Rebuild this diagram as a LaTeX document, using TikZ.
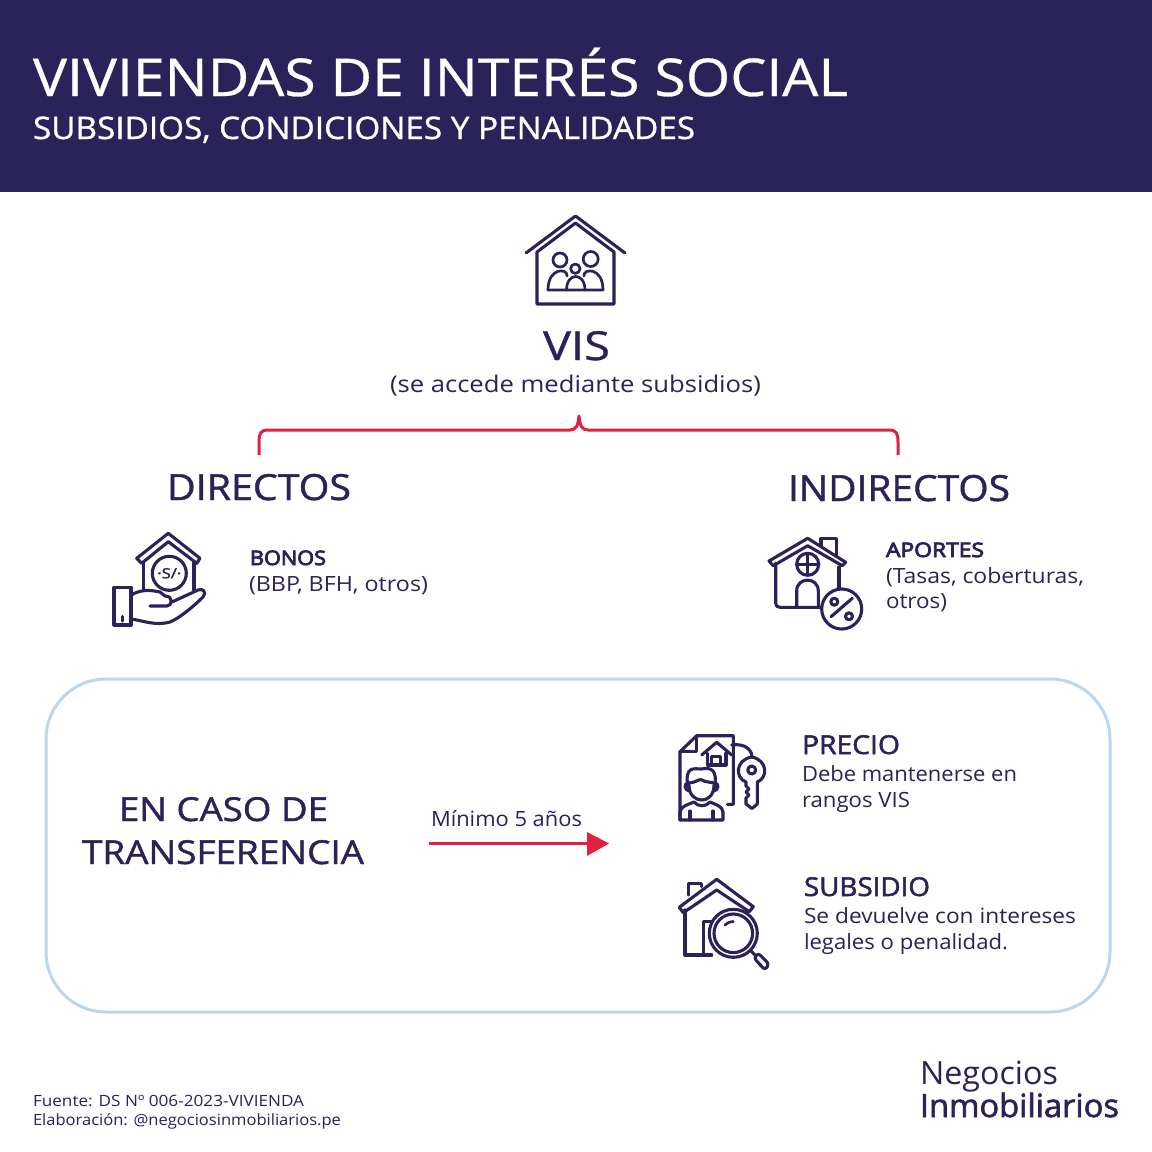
\documentclass[tikz,border=0pt]{standalone}
\usepackage{fontspec}
\usepackage{graphicx}
\setmainfont{Open Sans}
\definecolor{navy}{HTML}{2A2359}
\definecolor{redline}{HTML}{E51F42}
\definecolor{paleblue}{HTML}{BDD7EA}
% #1 target width in px, #2 font size, #3 text
\newcommand{\fitw}[3]{\resizebox{#1pt}{\height}{\fontsize{#2pt}{#2pt}\selectfont #3}}
% same, with a thin outline of width #4 that thickens the letters
\newcommand{\fitm}[4]{\resizebox{#1pt}{\height}{\fontsize{#2pt}{#2pt}\selectfont\special{pdf:code 2 Tr #4 w}#3\special{pdf:code 0 Tr 1 w}}}
\tikzset{
  lab/.style={inner sep=0pt,outer sep=0pt,anchor=base west,text=navy},
  icon/.style={draw=navy,line width=3.1pt,line join=round,line cap=round,fill=none},
  iconthin/.style={draw=navy,line width=2.7pt,line join=round,line cap=round,fill=none},
  redstroke/.style={draw=redline,line width=3pt,line join=round}
}
\begin{document}
\begin{tikzpicture}[x=1pt,y=-1pt]
\useasboundingbox (0,0) rectangle (1152,1152);
\fill[white] (0,0) rectangle (1152,1152);
\fill[navy] (0,0) rectangle (1152,192);
% header
\node[lab,text=white] (title) at (33,96) {\fitm{815}{52}{VIVIENDAS DE INTERÉS SOCIAL}{0.3}};
\node[lab,text=white] (subtitle) at (33,139) {\fitm{662}{31}{SUBSIDIOS, CONDICIONES Y PENALIDADES}{0.3}};
% central icon
\draw[icon] (526,253) -- (575.5,216) -- (625,253);
\draw[icon] (537,252) -- (575.5,223) -- (614,252) -- (614,304) -- (537,304) -- cycle;
\draw[iconthin] (560,260) circle (7);
\draw[iconthin] (590.7,259) circle (7.5);
\draw[iconthin] (575.3,268.7) circle (4.7);
\draw[iconthin] (548,290) .. controls (548,267) and (568,268) .. (567,276);
\draw[iconthin] (584,276) .. controls (583,268) and (603,267) .. (603,290) -- (548,290);
\draw[iconthin] (566.5,290) .. controls (566.5,272) and (585,272) .. (585,290);
% VIS
\node[lab] (vis) at (543,360) {\fitm{67}{40}{VIS}{0.3}};
\node[lab] (vissub) at (390,392) {\fitw{371}{23}{(se accede mediante subsidios)}};
% brace
\coordinate (braceL) at (259,455);
\coordinate (braceR) at (898,455);
\coordinate (braceT) at (579,416);
\draw[redstroke] (braceL) -- (259,442) .. controls (259,433) and (261,430) .. (268,430) -- (570,430)
  .. controls (576,430) and (578,426) .. (braceT) .. controls (580,426) and (582,430) .. (588,430)
  -- (889,430) .. controls (896,430) and (898,433) .. (898,442) -- (braceR);
\node[lab] (dir) at (167,500) {\fitm{184}{36}{DIRECTOS}{0.4}};
\node[lab] (indir) at (788,501) {\fitm{222}{36}{INDIRECTOS}{0.4}};
% hand icon
\draw[icon] (168.3,533.3) -- (200,558.3) -- (196.7,563.3) -- (168.3,541.7) -- (141.7,563.3) -- (136.7,558.3) -- cycle;
\draw[icon] (143.3,561.7) -- (143.3,590);
\draw[icon] (194,561.7) -- (194,590);
\draw[icon] (169.3,573.3) circle (17);
\node[inner sep=0pt,text=navy] (sol) at (169.3,573.3) {\fitm{24}{14}{·S/·}{0.3}};
\draw[icon] (114,587.3) rectangle (131,625);
\draw[icon] (122.3,616.5) -- (122.3,621);
\draw[icon] (131,595) .. controls (142,589) and (150,590) .. (160,592) -- (165,596)
  .. controls (174,596) and (172,606) .. (167,606) -- (150,606);
\draw[icon] (131,619) .. controls (145,621) and (155,626) .. (170,622) .. controls (180,618) and (195,605) .. (203,597)
  .. controls (207,592) and (203,588) .. (198,590) -- (172,602);
\node[lab] (bonos) at (250,565) {\fitm{76}{20}{BONOS}{0.8}};
\node[lab] (bonosd) at (249,591) {\fitw{179}{21}{(BBP, BFH, otros)}};
% percent house icon
\draw[icon] (807.7,538.3) -- (845.7,562.3) -- (842.3,565.7) -- (807.7,545.7) -- (773.3,565.7) -- (769,561) -- cycle;
\draw[icon] (775.7,563) -- (775.7,603) .. controls (775.7,606) and (777,607.3) .. (780,607.3) -- (822,607.3);
\draw[icon] (839,567) -- (839,588);
\draw[icon] (821,545.7) -- (821,538.3) -- (836.7,538.3) -- (836.7,555);
\draw[icon] (807.7,564.3) circle (11);
\draw[icon] (796.7,564.3) -- (818.7,564.3) (807.7,553.3) -- (807.7,575.3);
\draw[icon] (796.7,607.3) -- (796.7,591) .. controls (796.7,576.5) and (818.3,576.5) .. (818.3,591) -- (818.3,607.3);
\draw[icon,fill=white] (841.7,609) circle (20);
\draw[icon] (831,616.7) -- (852.3,598.3);
\draw[icon] (834.3,601.7) circle (3.5);
\draw[icon] (849,616.3) circle (3.5);
\node[lab] (aportes) at (886,557) {\fitm{98}{20}{APORTES}{0.8}};
\node[lab] (aportes1) at (886,583) {\fitw{198}{21}{(Tasas, coberturas,}};
\node[lab] (aportes2) at (886,608) {\fitw{61}{21}{otros)}};
% rounded panel
\draw[draw=paleblue,line width=3pt,rounded corners=60pt] (46,679) rectangle (1110,1012);
\node[lab] (caso1) at (119,821) {\fitm{209}{33}{EN CASO DE}{0.4}};
\node[lab] (caso2) at (82,864) {\fitm{282}{33}{TRANSFERENCIA}{0.4}};
\node[lab] (min) at (431,826) {\fitw{151}{21}{Mínimo 5 años}};
% arrow
\coordinate (arrS) at (429,843.5);
\coordinate (arrE) at (587,843.5);
\coordinate (arrT) at (609,843.5);
\draw[draw=redline,line width=3pt] (arrS) -- (arrE);
\fill[redline] (arrT) -- (587,832) -- (587,856) -- cycle;
% key icon
\draw[icon] (680,820) -- (680,751.7) -- (696.7,735.7) -- (733.3,735.7) -- (733.3,804.3) -- (727.3,804.3);
\draw[icon] (680,751.7) -- (696.7,751.7) -- (696.7,735.7);
\draw[icon] (701.7,755) -- (716.7,742.3) -- (731.7,755);
\draw[icon] (707.3,753.3) -- (707.3,765) -- (726,765) -- (726,753.3);
\draw[icon] (711.7,765) -- (711.7,756.7) -- (720.7,756.7) -- (720.7,765);
\draw[icon] (731.7,745) .. controls (745,743) and (752,750) .. (752,757);
\draw[icon] (751.7,770) circle (4);
\draw[icon] (746,782) .. controls (735,778) and (735,760) .. (751.7,757) .. controls (768,760) and (768,778) .. (757.3,782)
  -- (757.3,804) -- (752,808.5) -- (746,804) -- (746,798) -- (749,795) -- (746,792) -- (749,789) -- (746,786) -- cycle;
\draw[icon] (688,787) .. controls (684,765) and (695,769) .. (701,769) .. controls (712,767) and (717,770) .. (715,787);
\draw[icon] (689,783) .. controls (695,783) and (700,778) .. (702,780) .. controls (705,782) and (710,782) .. (714,783);
\draw[icon] (689,785) .. controls (689,795) and (695,800) .. (702,800) .. controls (708,800) and (714,795) .. (714,785);
\draw[icon] (688,783) .. controls (684,783) and (684,790) .. (689,791);
\draw[icon] (715,783) .. controls (719,783) and (719,790) .. (714,791);
\draw[icon] (680,820) -- (680,812) .. controls (680,806) and (690,804) .. (694,802) .. controls (698,807) and (706,807) .. (710,802)
  .. controls (714,804) and (723,806) .. (723,812) -- (723,820) -- cycle;
\draw[icon] (690,811) -- (690,820) (713,811) -- (713,820);
\node[lab] (precio) at (802,754) {\fitm{98}{26}{PRECIO}{0.5}};
\node[lab] (precio1) at (802,781) {\fitw{215}{21}{Debe mantenerse en}};
\node[lab] (precio2) at (802,807) {\fitw{108}{21}{rangos VIS}};
% magnifier icon
\draw[icon] (716.7,879.3) -- (753.3,906.7) -- (749.3,911.7) -- (716.7,890) -- (683.3,912.7) -- (679.3,907.3) -- cycle;
\draw[icon] (685,910) -- (685,955) -- (711.7,955);
\draw[icon] (703.3,955) -- (703.3,921.7) -- (711.7,921.7);
\draw[icon] (688.3,895) -- (688.3,883.3) -- (701.7,883.3) -- (701.7,886.7);
\draw[icon,fill=white] (733.3,933.3) circle (24);
\draw[icon] (733.3,933.3) circle (19.3);
\draw[iconthin] (725,925) .. controls (727,922.5) and (730,921.7) .. (733.3,921.5);
\draw[icon] (751,951) -- (756,956);
\draw[icon,rounded corners=3pt] (754,958) -- (758,953) -- (769,964) -- (765,970) -- cycle;
\node[lab] (subsidio) at (804,896) {\fitm{126}{26}{SUBSIDIO}{0.5}};
\node[lab] (subsidio1) at (804,923) {\fitw{272}{21}{Se devuelve con intereses}};
\node[lab] (subsidio2) at (804,949) {\fitw{204}{21}{legales o penalidad.}};
% footer
\node[lab] (fuente) at (33,1106) {\fitw{271}{15.5}{Fuente: DS Nº 006-2023-VIVIENDA}};
\node[lab] (elab) at (33,1125) {\fitw{308}{15.5}{Elaboración: @negociosinmobiliarios.pe}};
\node[lab] (neg) at (920,1084) {\fitw{138}{32}{Negocios}};
\node[lab] (inmo) at (920,1117) {\fitm{199}{32}{Inmobiliarios}{0.6}};
\end{tikzpicture}
\end{document}
